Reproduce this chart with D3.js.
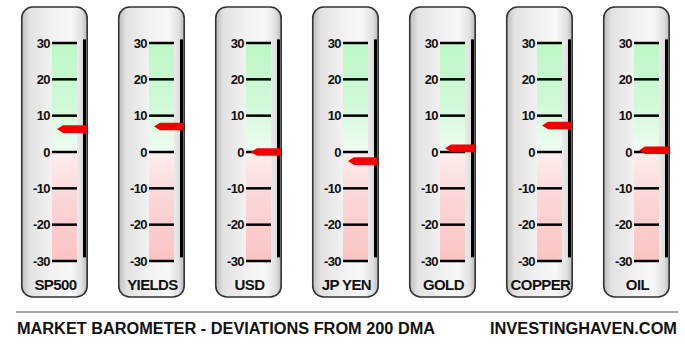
<!DOCTYPE html>
<meta charset="utf-8">
<title>Market Barometer</title>
<style>
  body { margin: 0; background: #fff; }
  text { font-family: "Liberation Sans", Arial, sans-serif; font-weight: bold; fill: #111; }
</style>
<body>
<script src="https://cdnjs.cloudflare.com/ajax/libs/d3/7.8.5/d3.min.js"></script>
<script>

const names = ["SP500", "YIELDS", "USD", "JP YEN", "GOLD", "COPPER", "OIL"];
const values = [6.3, 7, 0, -2.5, 1, 7.3, 0.5];
const ticks = [30, 20, 10, 0, -10, -20, -30];
const title = "MARKET BAROMETER - DEVIATIONS FROM 200 DMA";
const source = "INVESTINGHAVEN.COM";

var width = 685,
  height = 348;

var svg = d3.select("body").append("svg")
    .attr("width", width)
    .attr("height", height);

var x = d3.scaleBand()
    .domain(names)
    .range([21, 670])
    .paddingInner(0.31)
    .paddingOuter(0);

var y = d3.scaleLinear()
    .domain([-30, 30])
    .range([261, 43]);

var defs = svg.append("defs");

// cylinder shading of the panel
var shade = defs.append("linearGradient").attr("id", "shade");
[["0%", "#bdbdbd"], ["12%", "#e2e2e2"], ["45%", "#f1f1f1"], ["75%", "#f8f8f8"], ["92%", "#e0e0e0"], ["100%", "#b8b8b8"]]
  .forEach(s => shade.append("stop").attr("offset", s[0]).attr("stop-color", s[1]));

var green = defs.append("linearGradient").attr("id", "green")
    .attr("x1", 0).attr("x2", 0).attr("y1", 0).attr("y2", 1);
[["0%", "#bdf7c7"], ["55%", "#cff9d6"], ["100%", "#f0fdf2"]]
  .forEach(s => green.append("stop").attr("offset", s[0]).attr("stop-color", s[1]));

var red = defs.append("linearGradient").attr("id", "red")
    .attr("x1", 0).attr("x2", 0).attr("y1", 0).attr("y2", 1);
[["0%", "#fdeeee"], ["40%", "#fcd8d8"], ["100%", "#fbc3c3"]]
  .forEach(s => red.append("stop").attr("offset", s[0]).attr("stop-color", s[1]));

var panel = svg.selectAll("g.panel")
    .data(names.map((n, i) => ({ name: n, value: values[i] })))
  .enter().append("g")
    .attr("class", "panel")
    .attr("transform", d => "translate(" + Math.round(x(d.name)) + ",0)");

var bw = x.bandwidth();

panel.append("rect")
    .attr("x", 0.75).attr("y", 7)
    .attr("width", bw - 1.5).attr("height", 290)
    .attr("rx", 11)
    .attr("fill", "url(#shade)")
    .attr("stroke", "#333")
    .attr("stroke-width", 1.6);

// green / red zones
panel.append("rect")
    .attr("x", 31).attr("y", y(30))
    .attr("width", 25).attr("height", y(0) - y(30))
    .attr("fill", "url(#green)");

panel.append("rect")
    .attr("x", 31).attr("y", y(0))
    .attr("width", 25).attr("height", y(-30) - y(0))
    .attr("fill", "url(#red)");

// vertical bar
panel.append("rect")
    .attr("x", 62).attr("y", y(31))
    .attr("width", 3).attr("height", y(-29) - y(31))
    .attr("fill", "#000");

ticks.forEach(t => {
  panel.append("line")
      .attr("x1", 31).attr("x2", 56)
      .attr("y1", y(t)).attr("y2", y(t))
      .attr("stroke", "#000")
      .attr("stroke-width", 2.5);
  panel.append("text")
      .attr("x", 29).attr("y", y(t))
      .attr("dy", "0.36em")
      .attr("text-anchor", "end")
      .style("font-size", "13px")
      .style("letter-spacing", "-0.6px")
      .text(t);
});

// pointer
panel.append("path")
    .attr("d", d => {
      var v = y(d.value);
      return "M36," + v + "L42," + (v - 3.8) + "L66," + (v - 3.8) +
        "L66," + (v + 3.8) + "L42," + (v + 3.8) + "Z";
    })
    .attr("fill", "#f00000");

panel.append("text")
    .attr("x", bw / 2 + 1).attr("y", 290)
    .attr("text-anchor", "middle")
    .style("font-size", "15px")
    .style("letter-spacing", "-0.6px")
    .text(d => d.name);

// footer
svg.append("line")
    .attr("x1", 16).attr("x2", 678)
    .attr("y1", 312).attr("y2", 312)
    .attr("stroke", "#8a8a8a")
    .attr("stroke-width", 1.5);

svg.append("text")
    .attr("x", 17).attr("y", 334)
    .attr("textLength", 418)
    .attr("lengthAdjust", "spacingAndGlyphs")
    .style("font-size", "16px")
    .text(title);

svg.append("text")
    .attr("x", 490).attr("y", 334)
    .attr("textLength", 187)
    .attr("lengthAdjust", "spacingAndGlyphs")
    .style("font-size", "16px")
    .text(source);

</script>
